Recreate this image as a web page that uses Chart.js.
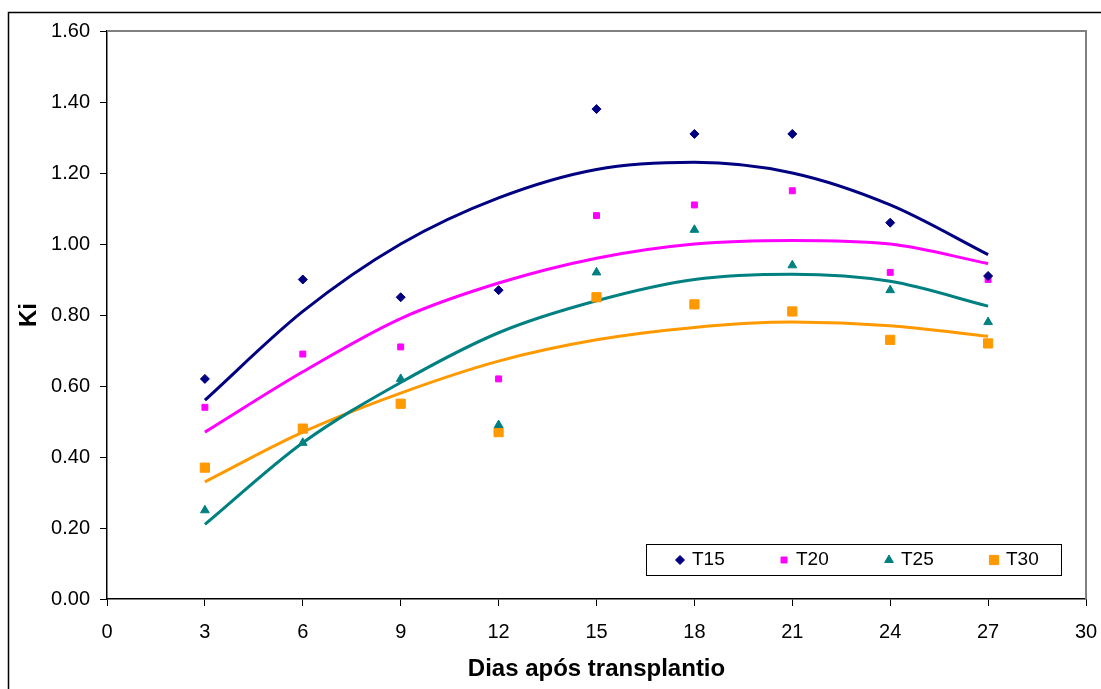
<!DOCTYPE html>
<html>
<head>
<meta charset="utf-8">
<script src="https://cdn.jsdelivr.net/npm/chart.js@4.4.0/dist/chart.umd.min.js"></script>
<style>
  html, body { margin: 0; padding: 0; background: #fff; }
  #wrap { width: 1101px; height: 689px; position: relative; }
</style>
</head>
<body>
<div id="wrap"><canvas id="graficoKi" width="1101" height="689"></canvas></div>
<script>
// dias após transplantio
const dias = [3, 6, 9, 12, 15, 18, 21, 24, 27];

// valores observados de Ki
const t15 = [0.62, 0.90, 0.85, 0.87, 1.38, 1.31, 1.31, 1.06, 0.91];
const t20 = [0.54, 0.69, 0.71, 0.62, 1.08, 1.11, 1.15, 0.92, 0.90];
const t25 = [0.25, 0.44, 0.62, 0.49, 0.92, 1.04, 0.94, 0.87, 0.78];
const t30 = [0.37, 0.48, 0.55, 0.47, 0.85, 0.83, 0.81, 0.73, 0.72];

// linhas de tendência
const tend15 = [0.56, 0.81, 1.00, 1.13, 1.21, 1.23, 1.20, 1.11, 0.97];
const tend20 = [0.47, 0.64, 0.79, 0.89, 0.96, 1.00, 1.01, 1.00, 0.945];
const tend25 = [0.21, 0.44, 0.61, 0.75, 0.84, 0.90, 0.915, 0.895, 0.825];
const tend30 = [0.33, 0.47, 0.58, 0.67, 0.73, 0.765, 0.78, 0.77, 0.74];

const xTicks = [0, 3, 6, 9, 12, 15, 18, 21, 24, 27, 30];
const yTicks = [0, 0.2, 0.4, 0.6, 0.8, 1.0, 1.2, 1.4, 1.6];

const cores = { t15: '#000080', t20: '#FF00FF', t25: '#008080', t30: '#FF9900' };
const fonte = '"Liberation Sans", Arial, sans-serif';

function pontos(valores) {
  return dias.map((d, i) => ({ x: d, y: valores[i] }));
}

function serie(label, valores, cor, estilo, raio) {
  return {
    label: label,
    data: pontos(valores),
    showLine: false,
    pointStyle: estilo,
    pointRadius: raio,
    pointBackgroundColor: cor,
    pointBorderColor: cor,
    pointBorderWidth: 1,
    order: 1
  };
}

function tendencia(valores, cor) {
  return {
    label: 'tend',
    data: pontos(valores),
    showLine: true,
    borderColor: cor,
    borderWidth: 3,
    pointRadius: 0,
    tension: 0.4,
    cubicInterpolationMode: 'monotone',
    order: 2
  };
}

const legendaItens = [
  { label: 'T15', cor: cores.t15, estilo: 'rectRot', raio: 4.5, x: 680 },
  { label: 'T20', cor: cores.t20, estilo: 'rect', raio: 4.2, x: 784 },
  { label: 'T25', cor: cores.t25, estilo: 'triangle', raio: 5, x: 889 },
  { label: 'T30', cor: cores.t30, estilo: 'rect', raio: 6.5, x: 994 }
];

// moldura externa, moldura da área do gráfico e legenda
const molduras = {
  id: 'molduras',
  beforeDraw(chart) {
    const ctx = chart.ctx;
    ctx.save();
    ctx.fillStyle = '#fff';
    ctx.fillRect(0, 0, chart.width, chart.height);
    ctx.strokeStyle = '#000';
    ctx.lineWidth = 1.5;
    ctx.strokeRect(8.5, 12.5, chart.width + 20, chart.height + 20);
    ctx.restore();
  },
  afterDatasetsDraw(chart) {
    const ctx = chart.ctx;
    const a = chart.chartArea;
    ctx.save();
    ctx.strokeStyle = '#808080';
    ctx.lineWidth = 2;
    ctx.beginPath();
    ctx.moveTo(a.left, a.top);
    ctx.lineTo(a.right, a.top);
    ctx.lineTo(a.right, a.bottom);
    ctx.stroke();

    // legenda
    ctx.fillStyle = '#fff';
    ctx.fillRect(646, 544, 416, 32);
    ctx.strokeStyle = '#000';
    ctx.lineWidth = 1;
    ctx.strokeRect(646.5, 544.5, 415, 31);
    ctx.font = '19px ' + fonte;
    ctx.textBaseline = 'middle';
    ctx.textAlign = 'left';
    legendaItens.forEach(item => {
      ctx.fillStyle = item.cor;
      ctx.strokeStyle = item.cor;
      Chart.helpers.drawPoint(ctx, { pointStyle: item.estilo, radius: item.raio, borderWidth: 1, rotation: 0 }, item.x, 560);
      ctx.fillStyle = '#000';
      ctx.fillText(item.label, item.x + 12, 560);
    });
    ctx.restore();
  }
};

const graficoKi = document.getElementById('graficoKi');
new Chart(graficoKi, {
  type: 'scatter',
  data: {
    datasets: [
      serie('T15', t15, cores.t15, 'rectRot', 4.5),
      serie('T20', t20, cores.t20, 'rect', 4.2),
      serie('T25', t25, cores.t25, 'triangle', 5),
      serie('T30', t30, cores.t30, 'rect', 6.5),
      tendencia(tend15, cores.t15),
      tendencia(tend20, cores.t20),
      tendencia(tend25, cores.t25),
      tendencia(tend30, cores.t30)
    ]
  },
  options: {
    responsive: false,
    animation: false,
    layout: { padding: { top: 31, right: 15, left: 0, bottom: 0 } },
    plugins: { legend: { display: false }, tooltip: { enabled: false } },
    scales: {
      x: {
        type: 'linear',
        min: 0,
        max: 30,
        afterBuildTicks: scale => { scale.ticks = xTicks.map(v => ({ value: v })); },
        afterFit: scale => { scale.height = 90; scale.paddingLeft = 0; scale.paddingRight = 0; },
        grid: { drawOnChartArea: false, drawTicks: true, tickLength: 7, color: '#000', tickColor: '#000' },
        border: { color: '#000', width: 1.5 },
        ticks: { color: '#000', padding: 14, font: { family: fonte, size: 20 } },
        title: {
          display: true,
          text: 'Dias após transplantio',
          color: '#000',
          font: { family: fonte, size: 24, weight: 'bold' },
          padding: { top: 0, bottom: 5 }
        }
      },
      y: {
        min: 0,
        max: 1.6,
        afterBuildTicks: scale => { scale.ticks = yTicks.map(v => ({ value: v })); },
        afterFit: scale => { scale.width = 107; scale.paddingTop = 0; scale.paddingBottom = 0; },
        grid: { drawOnChartArea: false, drawTicks: true, tickLength: 7, color: '#000', tickColor: '#000' },
        border: { color: '#000', width: 1.5 },
        ticks: {
          color: '#000',
          padding: 10,
          font: { family: fonte, size: 20 },
          callback: v => v.toFixed(2)
        },
        title: {
          display: true,
          text: 'Ki',
          color: '#000',
          font: { family: fonte, size: 24, weight: 'bold' },
          padding: { top: 15, bottom: 0 }
        }
      }
    }
  },
  plugins: [molduras]
});
</script>
</body>
</html>
